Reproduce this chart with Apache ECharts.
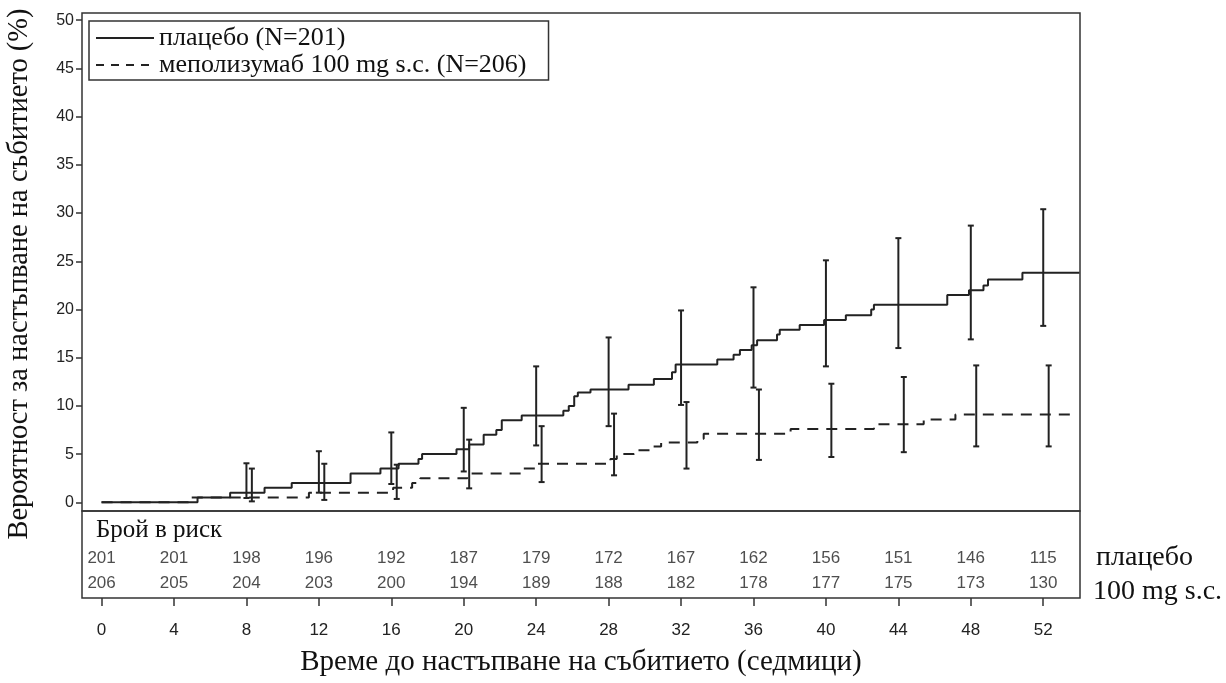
<!DOCTYPE html>
<html>
<head>
<meta charset="utf-8">
<script src="https://cdn.jsdelivr.net/npm/echarts@6/dist/echarts.min.js"></script>
<style>
  html, body { margin: 0; padding: 0; background: #fff; }
  #main { width: 1226px; height: 683px; }
</style>
</head>
<body>
<div id="main"></div>
<script type="text/javascript">
  // седмици, в които е даден броят в риск
  var weeks = [0, 4, 8, 12, 16, 20, 24, 28, 32, 36, 40, 44, 48, 52];
  var riskPlacebo = [201, 201, 198, 196, 192, 187, 179, 172, 167, 162, 156, 151, 146, 115];
  var riskMepo = [206, 205, 204, 203, 200, 194, 189, 188, 182, 178, 177, 175, 173, 130];
  var yTicks = [0, 5, 10, 15, 20, 25, 30, 35, 40, 45, 50];

  // Kaplan-Meier стъпки (време, кумулативна вероятност %)
  var placeboTime = [0, 5.3, 7.1, 9.0, 10.5, 13.75, 15.4, 16.4, 17.5, 17.7, 19.6, 20.3, 21.1, 21.8, 22.1, 23.2,
    25.5, 25.8, 26.1, 26.3, 27.0, 29.1, 30.5, 31.5, 31.7, 34.0, 34.9, 35.25, 35.9, 36.2, 37.3, 37.45,
    38.55, 39.9, 41.1, 42.5, 42.65, 46.7, 47.9, 48.7, 48.95, 50.85, 54.0];
  var placeboProb = [0, 0.5, 1.0, 1.5, 2.0, 3.0, 3.5, 4.0, 4.5, 5.0, 5.5, 6.0, 7.0, 7.5, 8.5, 9.0,
    9.5, 10.0, 11.0, 11.4, 11.7, 12.2, 12.8, 13.5, 14.3, 14.8, 15.3, 15.8, 16.3, 16.8, 17.4, 17.9,
    18.4, 18.9, 19.4, 20.0, 20.5, 21.5, 22.0, 22.5, 23.1, 23.8, 23.8];
  var mepoTime = [0, 4.8, 11.45, 16.1, 17.15, 17.6, 20.2, 23.3, 23.95, 28.1, 28.45, 29.4, 30.3, 30.9,
    32.9, 33.25, 38.05, 42.65, 45.4, 47.15, 53.7];
  var mepoProb = [0, 0.5, 1.0, 1.5, 2.0, 2.5, 3.0, 3.5, 4.0, 4.5, 5.0, 5.4, 5.8, 6.2,
    6.6, 7.1, 7.6, 8.1, 8.6, 9.1, 9.1];

  // 95% доверителни интервали
  var ciWeeks = [8, 12, 16, 20, 24, 28, 32, 36, 40, 44, 48, 52];
  var placeboLow = [0.45, 1.0, 1.9, 3.2, 5.9, 7.9, 10.1, 11.9, 14.1, 16.0, 16.9, 18.3];
  var placeboHigh = [4.05, 5.3, 7.25, 9.8, 14.1, 17.1, 19.9, 22.3, 25.1, 27.4, 28.7, 30.4];
  var mepoLow = [0.1, 0.25, 0.35, 1.45, 2.1, 2.8, 3.5, 4.4, 4.7, 5.2, 5.8, 5.8];
  var mepoHigh = [3.5, 4.0, 3.9, 6.5, 7.9, 9.2, 10.4, 11.7, 12.3, 13.0, 14.2, 14.2];

  var serif = "'Liberation Serif', 'Times New Roman', serif";
  var sans = "'Liberation Sans', Arial, sans-serif";
  var ink = '#222';

  function steps(t, v) {
    return t.map(function (x, i) { return [x, v[i]]; });
  }
  function bars(w, lo, hi, shift) {
    return w.map(function (x, i) { return [x + shift, lo[i], hi[i]]; });
  }
  function riskRow(vals, row) {
    return weeks.map(function (x, i) { return [x, row, vals[i]]; });
  }

  function renderBar(params, api) {
    var x = api.value(0);
    var p1 = api.coord([x, api.value(1)]);
    var p2 = api.coord([x, api.value(2)]);
    var c = 3;
    var st = { stroke: ink, lineWidth: 2 };
    return {
      type: 'group',
      children: [
        { type: 'line', shape: { x1: p1[0], y1: p1[1], x2: p2[0], y2: p2[1] }, style: st },
        { type: 'line', shape: { x1: p1[0] - c, y1: p1[1], x2: p1[0] + c, y2: p1[1] }, style: st },
        { type: 'line', shape: { x1: p2[0] - c, y1: p2[1], x2: p2[0] + c, y2: p2[1] }, style: st }
      ]
    };
  }

  var option = {
    animation: false,
    backgroundColor: '#fff',
    grid: [
      { left: 82, top: 13, width: 998, height: 498, show: true, borderColor: '#333', borderWidth: 1.5, outerBoundsMode: 'none' },
      { left: 82, top: 511, width: 998, height: 87, show: true, borderColor: '#333', borderWidth: 1.5, outerBoundsMode: 'none' }
    ],
    legend: {
      data: [
        { name: 'плацебо (N=201)' },
        { name: 'меполизумаб 100 mg s.c. (N=206)', lineStyle: { type: [8, 7] } }
      ],
      orient: 'vertical',
      left: 89,
      top: 21,
      padding: [4, 22, 2, 6],
      itemWidth: 58,
      itemHeight: 14,
      itemGap: 1,
      itemStyle: { opacity: 0, borderWidth: 0 },
      borderColor: '#333',
      borderWidth: 1.5,
      textStyle: { fontFamily: serif, fontSize: 26, color: '#111' }
    },
    xAxis: [
      {
        gridIndex: 0, type: 'value', min: -1.08, max: 54.03,
        axisLine: { show: false, onZero: false }, axisTick: { show: false }, axisLabel: { show: false }, splitLine: { show: false }
      },
      {
        gridIndex: 1, type: 'value', min: -1.08, max: 54.03, position: 'bottom',
        axisLine: { show: false, onZero: false },
        axisTick: { show: true, customValues: weeks, length: 8, lineStyle: { color: '#333', width: 1.5 } },
        axisLabel: { customValues: weeks, margin: 24, fontFamily: sans, fontSize: 17, color: '#222' },
        splitLine: { show: false },
        name: 'Време до настъпване на събитието (седмици)',
        nameLocation: 'middle',
        nameGap: 50,
        nameTextStyle: { fontFamily: serif, fontSize: 29, color: '#111' }
      }
    ],
    yAxis: [
      {
        gridIndex: 0, type: 'value', min: -0.9, max: 50.75,
        axisLine: { show: false, onZero: false },
        axisTick: { show: true, customValues: yTicks, length: 6, lineStyle: { color: '#333', width: 1.5 } },
        axisLabel: { customValues: yTicks, margin: 8, fontFamily: sans, fontSize: 16, color: '#222' },
        splitLine: { show: false },
        name: 'Вероятност за настъпване на събитието (%)',
        nameLocation: 'middle',
        nameGap: 48,
        nameTextStyle: { fontFamily: serif, fontSize: 28.5, color: '#111', padding: [0, 24, 0, 0] }
      },
      {
        gridIndex: 1, type: 'value', min: 0, max: 87, inverse: true, show: false,
        axisLine: { onZero: false }
      }
    ],
    graphic: [
      { type: 'text', x: 96, y: 530, style: { text: 'Брой в риск', font: '25px ' + serif, fill: '#111', verticalAlign: 'middle' } },
      { type: 'text', x: 1096, y: 558, style: { text: 'плацебо', font: '28px ' + serif, fill: '#111', verticalAlign: 'middle' } },
      { type: 'text', x: 1093, y: 592, style: { text: '100 mg s.c.', font: '28px ' + serif, fill: '#111', verticalAlign: 'middle' } }
    ],
    series: [
      {
        name: 'плацебо (N=201)', type: 'line', step: 'end', symbol: 'none',
        xAxisIndex: 0, yAxisIndex: 0,
        lineStyle: { color: ink, width: 2 }, itemStyle: { color: ink },
        data: steps(placeboTime, placeboProb)
      },
      {
        name: 'меполизумаб 100 mg s.c. (N=206)', type: 'line', step: 'end', symbol: 'none',
        xAxisIndex: 0, yAxisIndex: 0,
        lineStyle: { color: ink, width: 2, type: [11, 8] }, itemStyle: { color: ink },
        data: steps(mepoTime, mepoProb)
      },
      {
        type: 'custom', xAxisIndex: 0, yAxisIndex: 0, silent: true,
        encode: { x: 0, y: [1, 2] },
        renderItem: renderBar,
        data: bars(ciWeeks, placeboLow, placeboHigh, 0)
      },
      {
        type: 'custom', xAxisIndex: 0, yAxisIndex: 0, silent: true,
        encode: { x: 0, y: [1, 2] },
        renderItem: renderBar,
        data: bars(ciWeeks, mepoLow, mepoHigh, 0.3)
      },
      {
        type: 'scatter', xAxisIndex: 1, yAxisIndex: 1, silent: true,
        symbolSize: 1, itemStyle: { color: 'transparent' },
        label: {
          show: true, position: 'inside', fontFamily: sans, fontSize: 17, color: '#222',
          formatter: function (p) { return p.value[2]; }
        },
        data: riskRow(riskPlacebo, 47).concat(riskRow(riskMepo, 72))
      }
    ]
  };

  var myChart = echarts.init(document.getElementById('main'));
  myChart.setOption(option);
</script>
</body>
</html>
